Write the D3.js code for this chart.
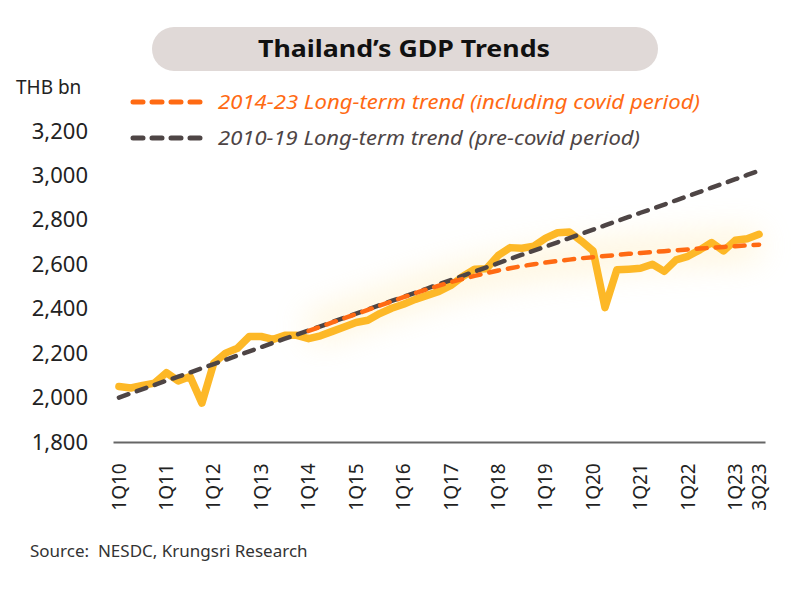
<!DOCTYPE html>
<html><head><meta charset="utf-8">
<script src="https://cdn.jsdelivr.net/npm/d3@7"></script>
<style>
html,body{margin:0;padding:0;background:#fff;}
svg{display:block;font-family:"Noto Sans",Lato,sans-serif;}
</style></head>
<body>
<svg id="chart" width="800" height="589"></svg>
<script>
const quarters = [
 "1Q10","2Q10","3Q10","4Q10","1Q11","2Q11","3Q11","4Q11","1Q12","2Q12","3Q12","4Q12",
 "1Q13","2Q13","3Q13","4Q13","1Q14","2Q14","3Q14","4Q14","1Q15","2Q15","3Q15","4Q15",
 "1Q16","2Q16","3Q16","4Q16","1Q17","2Q17","3Q17","4Q17","1Q18","2Q18","3Q18","4Q18",
 "1Q19","2Q19","3Q19","4Q19","1Q20","2Q20","3Q20","4Q20","1Q21","2Q21","3Q21","4Q21",
 "1Q22","2Q22","3Q22","4Q22","1Q23","2Q23","3Q23"];
const gdp = [
 2050,2043,2055,2065,2112,2075,2095,1975,2155,2200,2222,2275,
 2275,2262,2280,2280,2265,2278,2298,2318,2338,2348,2378,2402,
 2420,2442,2460,2478,2505,2545,2578,2580,2640,2675,2672,2682,
 2718,2742,2745,2705,2660,2405,2575,2578,2582,2600,2568,2620,
 2636,2665,2698,2660,2708,2715,2735];
// 2010-19 long-term trend (pre-covid), one value per quarter 1Q10..3Q23
const trendPre = [
 2000,2019,2038,2057,2076,2094,2113,2132,2151,2170,2189,2208,
 2227,2246,2265,2283,2302,2321,2340,2359,2378,2397,2416,2435,
 2454,2472,2491,2510,2529,2548,2567,2586,2605,2624,2643,2661,
 2680,2699,2718,2737,2756,2775,2794,2813,2832,2850,2869,2888,
 2907,2926,2945,2964,2983,3002,3021];
// 2014-23 long-term trend (incl. covid), quarters 1Q14..3Q23
const trendQuarters = quarters.slice(16);
const trendAll = [
 2300,2319,2338,2357,2376,2395,2414,2433,2452,2470,2488,2504,
 2520,2534,2548,2560,2572,2582,2592,2600,2608,2615,2621,2627,
 2632,2637,2642,2647,2651,2655,2659,2663,2667,2671,2674,2678,
 2681,2685,2688];
const xTickLabels = ["1Q10","1Q11","1Q12","1Q13","1Q14","1Q15","1Q16","1Q17","1Q18","1Q19","1Q20","1Q21","1Q22","1Q23","3Q23"];
const yTicks = [1800,2000,2200,2400,2600,2800,3000,3200];
const title = "Thailand\u2019s GDP Trends";
const unitLabel = "THB bn";
const legendItems = [
 {name:"2014-23 Long-term trend (including covid period)", color:"#ff6a13"},
 {name:"2010-19 Long-term trend (pre-covid period)", color:"#4e4545"}];
const source = "Source:  NESDC, Krungsri Research";

const svg = d3.select("#chart");
const defs = svg.append("defs");
const f = defs.append("filter").attr("id","glow").attr("x","-20%").attr("y","-100%").attr("width","140%").attr("height","300%");
f.append("feGaussianBlur").attr("stdDeviation",16);

const x = d3.scaleBand().domain(quarters).range([113,765]).padding(0);
const y = d3.scaleLinear().domain([1800,3200]).range([442,131]);
const cx = q => x(q) + x.bandwidth()/2;

// title pill
svg.append("rect").attr("x",152).attr("y",27).attr("width",506).attr("height",44)
  .attr("rx",22).attr("fill","#e0d9d7");
svg.append("text").attr("x",404).attr("y",57).attr("text-anchor","middle")
  .attr("font-size",24).attr("font-weight",700).attr("fill","#111")
  .attr("textLength",292).attr("lengthAdjust","spacingAndGlyphs").text(title);

svg.append("text").attr("x",16).attr("y",94).attr("font-size",19).attr("fill","#222").text(unitLabel);

// legend
const legendWidths = [482, 422];
legendItems.forEach((d,i)=>{
  const ly = 102 + i*36;
  svg.append("line").attr("x1",133).attr("x2",203).attr("y1",ly).attr("y2",ly)
    .attr("stroke",d.color).attr("stroke-width",5).attr("stroke-linecap","round")
    .attr("stroke-dasharray","10,9");
  svg.append("text").attr("x",218).attr("y",ly+7).attr("font-size",19).attr("font-style","italic")
    .attr("fill",d.color).attr("textLength",legendWidths[i]).attr("lengthAdjust","spacingAndGlyphs").text(d.name);
});

// y axis labels
const yAxis = d3.axisLeft(y).tickValues(yTicks).tickSize(0).tickPadding(0).tickFormat(d3.format(","));
const gy = svg.append("g").attr("transform","translate(88,0)").call(yAxis);
gy.select(".domain").remove();
gy.selectAll("text").attr("font-size",22).attr("fill","#222").attr("font-family","'Noto Sans',sans-serif");

// x axis
const xAxis = d3.axisBottom(x).tickValues(xTickLabels).tickSize(0).tickPadding(0);
const gx = svg.append("g").attr("transform","translate(0,442)").call(xAxis);
gx.select(".domain").attr("stroke","#666").attr("stroke-width",2);
gx.selectAll("text").attr("font-size",19).attr("fill","#222").attr("font-family","'Noto Sans',sans-serif")
  .attr("text-anchor","middle").attr("dy","0.35em")
  .attr("transform","translate(0,45) rotate(-90)");

// glow
const lineTrend = d3.line().x((d,i)=>cx(trendQuarters[i])).y(d=>y(d));
svg.append("path").datum(trendAll).attr("d",lineTrend).attr("fill","none")
  .attr("stroke","#ffe7a8").attr("stroke-width",30).attr("opacity",0.4).attr("filter","url(#glow)");

// GDP line
const lineG = d3.line().x((d,i)=>cx(quarters[i])).y(d=>y(d));
svg.append("path").datum(gdp).attr("d",lineG).attr("fill","none")
  .attr("stroke","#fdb827").attr("stroke-width",7.5).attr("stroke-linejoin","round").attr("stroke-linecap","round");

// trend lines
svg.append("path").datum(trendPre).attr("d",lineG).attr("fill","none")
  .attr("stroke",legendItems[1].color).attr("stroke-width",4.5).attr("stroke-linecap","round")
  .attr("stroke-dasharray","10,9");
svg.append("path").datum(trendAll).attr("d",lineTrend).attr("fill","none")
  .attr("stroke",legendItems[0].color).attr("stroke-width",4.5).attr("stroke-linecap","round")
  .attr("stroke-dasharray","10,9");

svg.append("text").attr("x",30).attr("y",557).attr("font-size",17).attr("fill","#333")
  .style("white-space","pre").attr("xml:space","preserve").text(source);
</script>
</body></html>
